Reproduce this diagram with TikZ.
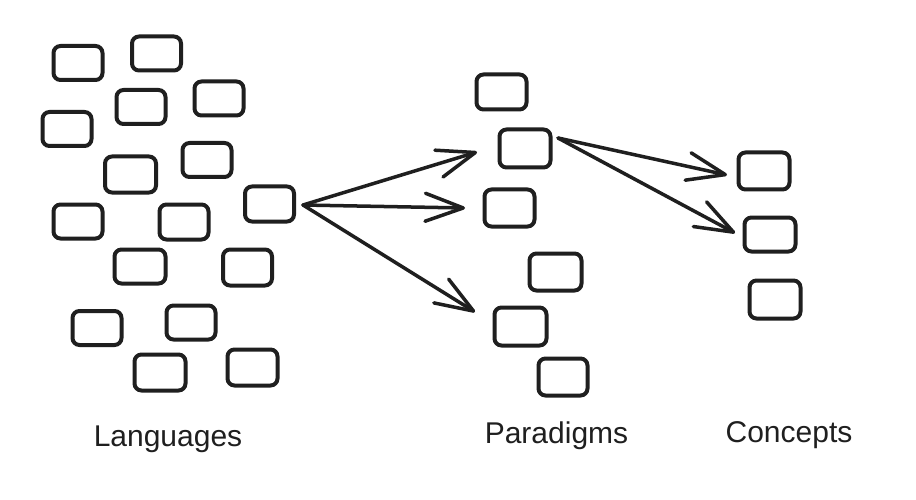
\documentclass[tikz,border=0pt]{standalone}
\usepackage{fontspec}
\setmainfont{Liberation Sans}
\usetikzlibrary{arrows.meta}
\begin{document}
\begin{tikzpicture}[x=1pt,y=-1pt,
  box/.style={draw=black!88, line width=4pt, rounded corners=7pt, minimum width=49pt, minimum height=34pt, inner sep=0pt},
  conn/.style={draw=black!88, line width=3.5pt, line cap=round, -{Straight Barb[length=38pt,width=28pt,line width=3.5pt,round]}},
  lab/.style={font=\fontsize{30}{34}\selectfont, text=black!88, anchor=base, inner sep=0pt}]
\useasboundingbox[fill=white] (0,0) rectangle (916,500);
% Languages
\node[box] (l1) at (78,63) {};
\node[box] (l2) at (156.5,53.5) {};
\node[box] (l3) at (141,107) {};
\node[box] (l4) at (219,98.5) {};
\node[box] (l5) at (67,129) {};
\node[box, minimum width=51pt, minimum height=36pt] (l6) at (130.5,174.5) {};
\node[box] (l7) at (207,160) {};
\node[box, minimum height=35pt] (l8) at (269.5,204) {};
\node[box] (l9) at (78,221.5) {};
\node[box, minimum height=35pt] (l10) at (184,222) {};
\node[box, minimum width=51pt] (l11) at (140,266.5) {};
\node[box, minimum height=36pt] (l12) at (247.5,267.5) {};
\node[box] (l13) at (97,328) {};
\node[box] (l14) at (191,322.5) {};
\node[box, minimum width=51pt, minimum height=36pt] (l15) at (160,372.5) {};
\node[box, minimum width=50pt, minimum height=36pt] (l16) at (252.5,367.5) {};
% Paradigms
\node[box, minimum width=50pt, minimum height=35pt] (p1) at (501.5,92) {};
\node[box, minimum width=51pt, minimum height=38pt] (p2) at (525,148.5) {};
\node[box, minimum width=50pt, minimum height=37pt] (p3) at (509.5,208) {};
\node[box, minimum width=52pt, minimum height=37pt] (p4) at (555.5,272) {};
\node[box, minimum width=52pt, minimum height=38pt] (p5) at (520.5,326.5) {};
\node[box, minimum height=37pt] (p6) at (563,377) {};
% Concepts
\node[box, minimum width=51pt, minimum height=37pt] (c1) at (764,171) {};
\node[box, minimum width=51pt, minimum height=34pt] (c2) at (770,234.5) {};
\node[box, minimum width=51pt, minimum height=38pt] (c3) at (775,299.5) {};
% arrow ends
\coordinate (s1) at (303,205);
\coordinate (t1) at (477,152);
\coordinate (t2) at (465,208);
\coordinate (t3) at (475,312);
\coordinate (s2) at (558,138);
\coordinate (t4) at (727,175);
\coordinate (t5) at (735,233);
\draw[conn] (s1) -- (t1);
\draw[conn] (s1) -- (t2);
\draw[conn] (s1) -- (t3);
\draw[conn] (s2) -- (t4);
\draw[conn] (s2) -- (t5);
% labels
\node[lab] (tl) at (168,446) {Languages};
\node[lab] (tp) at (556.5,443) {Paradigms};
\node[lab] (tc) at (789,442) {Concepts};
\end{tikzpicture}
\end{document}
